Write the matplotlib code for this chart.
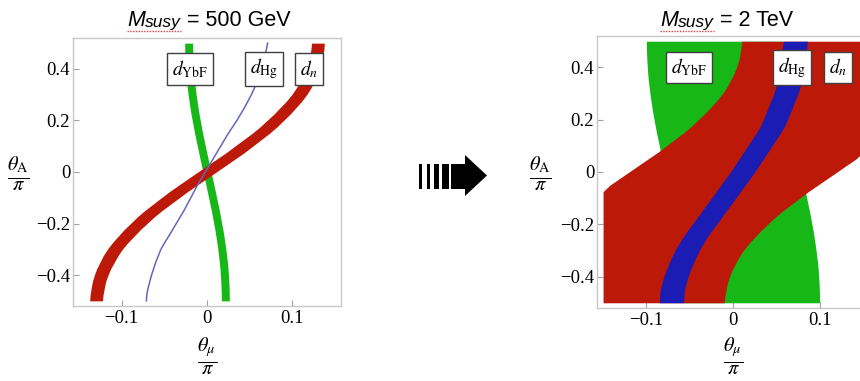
import matplotlib
matplotlib.use('Agg')
import matplotlib.pyplot as plt
import numpy as np
from matplotlib.patches import Rectangle, Polygon
from matplotlib.lines import Line2D

plt.rcParams.update({
    'font.family': 'Liberation Serif',
    'mathtext.fontset': 'stix',
    'axes.edgecolor': '#c8c8c8',
    'axes.linewidth': 1.0,
})

W, H = 860, 381

# ------------------------------------
# data (theta / pi)
# ------------------------------------
theta_A = [-0.5, -0.475, -0.45, -0.425, -0.4, -0.375, -0.35, -0.325, -0.3, -0.275, -0.25,
           -0.225, -0.2, -0.175, -0.15, -0.125, -0.1, -0.075, -0.05, -0.025, 0.0,
           0.025, 0.05, 0.075, 0.1, 0.125, 0.15, 0.175, 0.2, 0.225, 0.25,
           0.275, 0.3, 0.325, 0.35, 0.375, 0.4, 0.425, 0.45, 0.475, 0.5]

# d_n band centre (both panels)
dn_centre = [-0.130, -0.1293, -0.128, -0.1265, -0.124, -0.121, -0.117, -0.113, -0.108, -0.102, -0.095,
             -0.088, -0.080, -0.072, -0.063, -0.053, -0.043, -0.033, -0.022, -0.011, 0.000,
             0.011, 0.022, 0.033, 0.043, 0.053, 0.063, 0.072, 0.080, 0.088, 0.095,
             0.102, 0.108, 0.113, 0.117, 0.121, 0.124, 0.1265, 0.128, 0.1293, 0.130]
# d_n half width at 500 GeV (wider where the band is flat)
dn_hw_500 = [0.0075, 0.0076, 0.0077, 0.0078, 0.0080, 0.0082, 0.0084, 0.0086, 0.0088, 0.0090, 0.0093,
             0.0095, 0.0097, 0.0099, 0.0101, 0.0103, 0.0105, 0.0106, 0.0107, 0.0108, 0.0108,
             0.0108, 0.0107, 0.0106, 0.0105, 0.0103, 0.0101, 0.0099, 0.0097, 0.0095, 0.0093,
             0.0090, 0.0088, 0.0086, 0.0084, 0.0082, 0.0080, 0.0078, 0.0077, 0.0076, 0.0075]
dn_hw_2tev = 0.120

# d_YbF band centre (both panels)
ybf_centre = [0.0215, 0.0214, 0.0212, 0.0209, 0.0204, 0.0199, 0.0192, 0.0183, 0.0174, 0.0163, 0.0152,
              0.0140, 0.0126, 0.0112, 0.0098, 0.0082, 0.0066, 0.0050, 0.0034, 0.0017, 0.0,
              -0.0017, -0.0034, -0.0050, -0.0066, -0.0082, -0.0098, -0.0112, -0.0126, -0.0140, -0.0152,
              -0.0163, -0.0174, -0.0183, -0.0192, -0.0199, -0.0204, -0.0209, -0.0212, -0.0214, -0.0215]
ybf_hw_500 = 0.0047
ybf_hw_2tev = 0.0785

# d_Hg: thin line at 500 GeV, band at 2 TeV
hg_line_500 = [-0.071, -0.0705, -0.069, -0.067, -0.065, -0.0625, -0.060, -0.057, -0.054, -0.0497, -0.045,
               -0.0405, -0.036, -0.0315, -0.027, -0.023, -0.019, -0.015, -0.011, -0.0065, -0.002,
               0.0025, 0.007, 0.0115, 0.016, 0.0205, 0.025, 0.030, 0.035, 0.0395, 0.044,
               0.048, 0.052, 0.0555, 0.059, 0.0615, 0.064, 0.066, 0.068, 0.0695, 0.071]
hg_centre_2tev = [-0.071, -0.0707, -0.070, -0.068, -0.066, -0.063, -0.060, -0.0567, -0.053, -0.0487, -0.044,
                  -0.0387, -0.033, -0.0275, -0.022, -0.0165, -0.011, -0.0055, 0.000, 0.0055, 0.011,
                  0.016, 0.021, 0.026, 0.031, 0.036, 0.041, 0.0455, 0.049, 0.052, 0.055,
                  0.058, 0.061, 0.0635, 0.0655, 0.067, 0.068, 0.069, 0.070, 0.071, 0.072]
hg_hw_2tev = 0.014

titles = [('500 GeV', 127), ('2 TeV', 660)]
labels_500 = [(r'$d_{\mathrm{YbF}}$', -0.020), (r'$d_{\mathrm{Hg}}$', 0.067), (r'$d_{n}$', 0.120)]
labels_2tev = [(r'$d_{\mathrm{YbF}}$', -0.051), (r'$d_{\mathrm{Hg}}$', 0.068), (r'$d_{n}$', 0.121)]

red = '#bd1909'
green = '#16b716'
blue = '#1b1cb4'
hg_col = '#6468b6'

fig = plt.figure(figsize=(W / 100, H / 100), dpi=100)


def px_axes(l, t, r, b):
    return fig.add_axes([l / W, 1 - b / H, (r - l) / W, (b - t) / H])


def band(ax, centre, hw, col, z):
    c = np.array(centre)
    hw = np.array(hw)
    ax.fill_betweenx(theta_A, np.clip(c - hw, -0.15, 0.15), np.clip(c + hw, -0.15, 0.15),
                     color=col, lw=0, zorder=z)


ax1 = px_axes(73, 38, 341, 306)
ax2 = px_axes(597, 36, 869, 308)

# 500 GeV
band(ax1, ybf_centre, ybf_hw_500, green, 2)
band(ax1, dn_centre, dn_hw_500, red, 3)
ax1.plot(hg_line_500, theta_A, color=hg_col, lw=1.1, zorder=4)

# 2 TeV
band(ax2, ybf_centre, ybf_hw_2tev, green, 2)
band(ax2, dn_centre, dn_hw_2tev, red, 3)
band(ax2, hg_centre_2tev, hg_hw_2tev, blue, 4)

for ax, labs in [(ax1, labels_500), (ax2, labels_2tev)]:
    for txt, xp in labs:
        ax.text(xp, 0.40, txt, fontsize=14, ha='center', va='center', zorder=5,
                bbox=dict(boxstyle='square,pad=0.25', fc='white', ec='#404040', lw=1.0))
    ax.set_xlim(-0.157, 0.157)
    ax.set_ylim(-0.52, 0.52)
    ax.set_xticks([-0.1, 0, 0.1])
    ax.set_xticklabels(['\u22120.1', '0', '0.1'])
    ax.set_yticks([-0.4, -0.2, 0, 0.2, 0.4])
    ax.set_yticklabels(['\u22120.4', '\u22120.2', '0', '0.2', '0.4'])
    ax.tick_params(direction='in', length=4, width=0.8, color='#a0a0a0', labelsize=13.5, pad=3)
    ax.tick_params(axis='y', pad=2)

# axis labels as fractions
for xc in [18, 540]:
    fig.text(xc / W, 1 - 174 / H, r'$\frac{\theta_{\mathrm{A}}}{\pi}$', fontsize=21,
             ha='center', va='center')
for xc in [207, 733]:
    fig.text(xc / W, 1 - 356 / H, r'$\frac{\theta_{\mu}}{\pi}$', fontsize=21,
             ha='center', va='center')

# titles: M_susy = ...
fig.canvas.draw()
rend = fig.canvas.get_renderer()
for rest, x0 in titles:
    pieces = [('M', 15.5, 'italic', 0), ('susy', 12.5, 'italic', 1.5), (' = ' + rest, 15.5, 'normal', 0)]
    x = x0
    sub_end = x0
    for txt, size, style, dy in pieces:
        t = fig.text(x / W, 1 - (26 + dy) / H, txt, fontsize=size, style=style,
                     family='Liberation Sans', ha='left', va='baseline')
        x += t.get_window_extent(renderer=rend).width
        if txt == 'susy':
            sub_end = x
    fig.add_artist(Line2D([x0 / W, sub_end / W], [1 - 30.5 / H, 1 - 30.5 / H], color='#e03a3a',
                          lw=1.0, ls=(0, (1.0, 1.0)), transform=fig.transFigure))

# striped arrow between the panels
tf = fig.transFigure
for l, r in [(419, 422), (427, 430.3), (434.3, 439), (441.7, 449.3), (450.5, 466)]:
    fig.add_artist(Rectangle((l / W, 1 - 189 / H), (r - l) / W, 25 / H, color='black', lw=0, transform=tf))
fig.add_artist(Polygon([(465 / W, 1 - 155 / H), (487 / W, 1 - 175.5 / H), (465 / W, 1 - 196 / H)],
                       closed=True, color='black', lw=0, transform=tf))

fig.savefig('out.png', dpi=100)
